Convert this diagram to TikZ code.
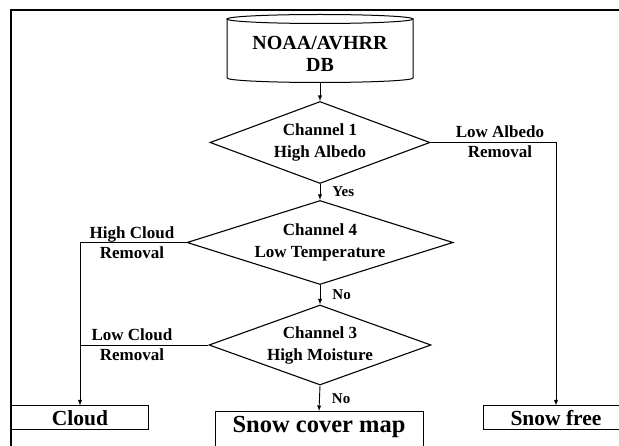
\documentclass[tikz,border=0pt]{standalone}
\usepackage{fontspec}
\setmainfont{Liberation Serif}
\usetikzlibrary{shapes.geometric}

\begin{document}
\begin{tikzpicture}[x=1pt, y=-1pt, >=latex,
        decision/.style={diamond, draw, line width=1.1pt, inner sep=0pt, align=center,
            font=\fontsize{17}{22}\selectfont\bfseries},
        outbox/.style={rectangle, draw, line width=1pt, inner sep=0pt,
            font=\fontsize{21.5}{24}\selectfont\bfseries},
        lbl/.style={inner sep=0pt, align=center, font=\fontsize{17}{20}\selectfont\bfseries},
        ans/.style={inner sep=0pt, font=\fontsize{15}{18}\selectfont\bfseries},
        flow/.style={line width=0.9pt}]
        \useasboundingbox (0,0) rectangle (619,446);
        % ==== FRAME ====
        \draw[line width=2.4pt] (11,480) -- (11,10) -- (660,10);

        % ==== DATABASE ====
        \draw[line width=1pt] (320,19) ellipse [x radius=93, y radius=4.5];
        \draw[line width=1pt] (227,19) -- (227,78)
            arc[start angle=180, end angle=0, x radius=93, y radius=4.5] -- (413,19);
        \node[font=\fontsize{20}{22}\selectfont\bfseries, align=center, inner sep=0pt]
            (db) at (320,54) {NOAA/AVHRR\\DB};
        \coordinate (dbbot) at (320,82.5);

        % ==== TESTS ====
        \node[decision, aspect=2.68, minimum width=220pt, minimum height=82pt] (d1) at (320,142.5) {Channel 1\\High Albedo};
        \node[decision, aspect=3.17, minimum width=266pt, minimum height=84pt] (d4) at (320,242.5) {Channel 4\\Low Temperature};
        \node[decision, aspect=2.78, minimum width=222pt, minimum height=80pt] (d3) at (320,345) {Channel 3\\High Moisture};

        % ==== RESULTS ====
        \node[outbox, minimum width=137pt, minimum height=24pt] (cloud) at (80,418) {Cloud};
        \node[outbox, minimum width=208pt, minimum height=44pt, anchor=north, text height=17pt,
            text depth=19pt, font=\fontsize{24.5}{26}\selectfont\bfseries] (map) at (319,411) {Snow cover map};
        \node[outbox, minimum width=146pt, minimum height=24pt] (free) at (556,418) {Snow free};

        % ==== Connectors ====
        \draw[->, flow] (dbbot) -- (d1.north);
        \draw[->, flow] (d1.south) -- node[ans, right=12pt] {Yes} (d4.north);
        \draw[->, flow] (d4.south) -- node[ans, right=12pt] {No} (d3.north);
        \draw[->, flow] (d3.south) -- node[ans, right=12pt] {No} (map.north);
        \draw[->, flow] (d1.east) -- (d1.east -| free.north) -- (free.north);
        \draw[->, flow] (d4.west) -- (d4.west -| cloud.north) -- (cloud.north);
        \draw[flow] (d3.west) -- (d3.west -| cloud.north);

        % ==== Branch labels ====
        \node[lbl] (albedo) at (500,142) {Low Albedo\\Removal};
        \node[lbl] (hicloud) at (132,243) {High Cloud\\Removal};
        \node[lbl] (locloud) at (132,345) {Low Cloud\\Removal};
\end{tikzpicture}
\end{document}
